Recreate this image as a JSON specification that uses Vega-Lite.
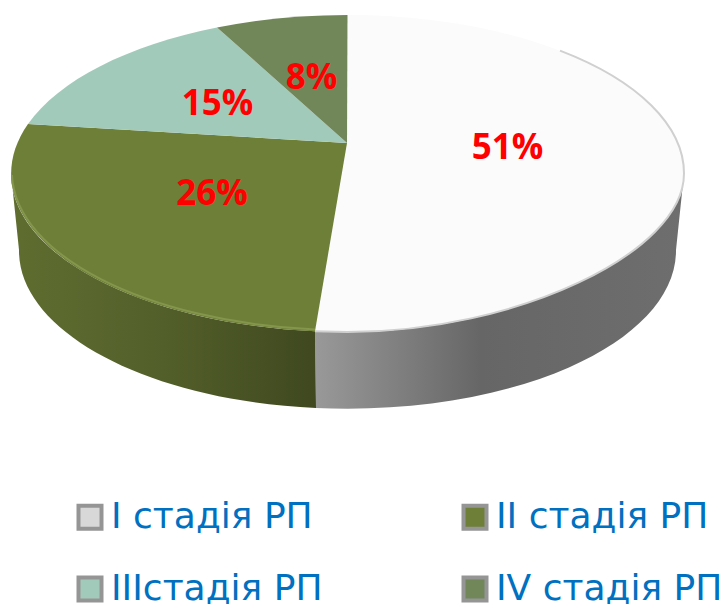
{
"$schema":"https://vega.github.io/schema/vega-lite/v6.json",
"width":725,"height":604,"padding":0,"autosize":{"type":"none"},
"background":"white",
"config":{"view":{"stroke":null}},
"data":{"values":[
{"stage":"I стадія РП","share":51,"label":"51%"},
{"stage":"II стадія РП","share":26,"label":"26%"},
{"stage":"IIIстадія РП","share":15,"label":"15%"},
{"stage":"IV стадія РП","share":8,"label":"8%"}
]},
"layer":[
{"transform":[{"filter":"datum.share == 51"}],
 "mark":{"type":"point","filled":true,"size":4,"opacity":1,"shape":"M-47.5 29.3L-15 30C153.5 30 321.5 -49.25 321.5 -128.5L313.5 -52A328.5 158 0 0 1 -46.5 106Z",
   "color":{"gradient":"linear","x1":0,"y1":0,"x2":1,"y2":0,"stops":[{"offset":0,"color":"#999999"},{"offset":0.45,"color":"#666666"},{"offset":1,"color":"#6e6e6e"}]}},
 "encoding":{}},
{"transform":[{"filter":"datum.share == 26"}],
 "mark":{"type":"point","filled":true,"size":4,"opacity":1,"shape":"M-47.5 29.3L-46.5 106A328.5 158 0 0 1 -343.5 -52L-351.5 -128.5A336.5 158.5 0 0 0 -47.5 29.3Z",
   "color":{"gradient":"linear","x1":0,"y1":0,"x2":1,"y2":0,"stops":[{"offset":0,"color":"#5f6d30"},{"offset":0.5,"color":"#535f2a"},{"offset":1,"color":"#3f481f"}]}},
 "encoding":{}},
{"mark":{"type":"point","filled":true,"size":4,"opacity":1},
 "encoding":{
  "shape":{"field":"stage","type":"nominal","legend":null,"scale":{"domain":["I стадія РП","IIIстадія РП","II стадія РП","IV стадія РП"],"range":[
    "M-15.5 -159L-15 -287A336.5 158.5 0 0 1 321.5 -128.5C321.5 -49.25 153.5 30 -15 30L-47.5 29.3Z",
    "M-15.5 -159L-334.5 -178A336.5 158.5 0 0 1 -145.5 -274.6Z",
    "M-15.5 -159L-47.5 29.3A336.5 158.5 0 0 1 -334.5 -178Z",
    "M-15.5 -159L-145.5 -274.6A336.5 158.5 0 0 1 -15 -287Z"]}},
  "color":{"field":"stage","type":"nominal","legend":null,
   "scale":{"domain":["I стадія РП","IIIстадія РП","II стадія РП","IV стадія РП"],"range":["#fbfbfb","#a2cabb","#6e7f38","#71875a"]}}
 }},
{"mark":{"type":"point","filled":true,"size":0,"shape":"square"},
 "encoding":{
  "color":{"field":"stage","type":"nominal",
   "scale":{"domain":["I стадія РП","IIIстадія РП","II стадія РП","IV стадія РП"],"range":["#d8d8d8","#a2cabb","#6e7f38","#71875a"]},
   "legend":{"title":null,"orient":"none","legendX":72,"legendY":499,"columns":2,"columnPadding":132,"rowPadding":32,"symbolType":"square","symbolSize":529,"symbolOpacity":1,"symbolStrokeWidth":4,"symbolStrokeColor":"#959595","labelFont":"DejaVu Sans","labelFontSize":36,"labelColor":"#0070c0","labelOffset":3,"labelLimit":400}}
 }},
{"transform":[{"filter":"datum.share > 20"}],
 "mark":{"type":"point","filled":false,"size":4,"opacity":1,"strokeWidth":2},
 "encoding":{
  "shape":{"field":"stage","type":"nominal","legend":null,"scale":{"domain":["I стадія РП","II стадія РП"],"range":[
    "M197.5 -251.4A336.5 158.5 0 0 1 321.5 -128.5C321.5 -49.25 153.5 30 -15 30L-47.5 29.3",
    "M-47.5 27.5A336.5 158.5 0 0 1 -350.5 -127"]}},
  "color":{"field":"stage","type":"nominal","legend":null,"scale":{"domain":["I стадія РП","II стадія РП"],"range":["#d0d0d0","#84964c"]}}
 }},
{"mark":{"type":"text","font":"Open Sans","fontWeight":700,"fontSize":35,"color":"#ff0000","baseline":"middle","align":"center"},
 "encoding":{
  "x":{"field":"share","type":"quantitative","axis":null,"scale":{"domain":[8,15,26,51],"range":[311.5,217.5,212,507.5],"nice":false,"zero":false}},
  "y":{"field":"share","type":"quantitative","axis":null,"scale":{"domain":[8,15,26,51],"range":[78,104,194,148],"nice":false,"zero":false}},
  "text":{"field":"label"}
 }}
],
"resolve":{"scale":{"color":"independent","shape":"independent"}}
}
